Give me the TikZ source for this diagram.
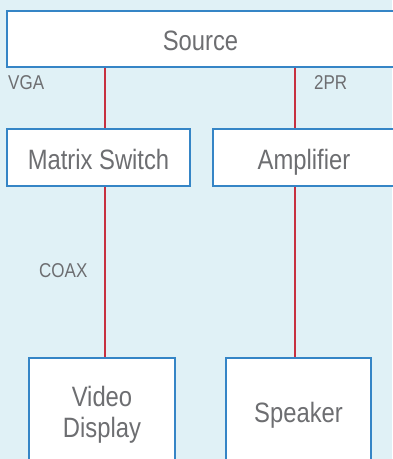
\documentclass[tikz,border=0pt]{standalone}
\usepackage{fontspec}
\setmainfont{Liberation Sans}[FakeStretch=0.85]
\usepackage{tikz}
\usetikzlibrary{positioning,calc}
\definecolor{avsky}{HTML}{E0F1F6}
\definecolor{avblue}{HTML}{3585C6}
\definecolor{avred}{HTML}{C7303F}
\definecolor{avgray}{HTML}{6D6E71}
\tikzset{
  unit/.style={draw=avblue, line width=1.6pt, fill=white, text=avgray, align=center, inner sep=0pt, font=\fontsize{28}{31}\selectfont},
  row/.style={unit, text height=26pt, text depth=3pt},
  wire/.style={avred, line width=1.3pt},
  lbl/.style={text=avgray, inner sep=0pt, anchor=west, font=\fontsize{20}{22}\selectfont},
}

\begin{document}
\begin{tikzpicture}[x=1pt, y=-1pt]
      \fill[avsky] (0,0) rectangle (392,459);
      \useasboundingbox (0,0) rectangle (392,459);
      \coordinate (vga) at (105,0);
      \coordinate (tpr) at (295,0);
      \node[row, minimum width=387pt, minimum height=56pt] (src) at (200.5,39) {Source};
      \node[row, minimum width=183pt, minimum height=57pt] (mx) at (98.5,157.5) {Matrix Switch};
      \node[row, minimum width=182pt, minimum height=57pt] (amp) at (304,157.5) {Amplifier};
      \node[unit, minimum width=146pt, minimum height=114pt] (vd) at (102,415) {Video\\Display};
      \node[unit, minimum width=145pt, minimum height=114pt] (spk) at (298.5,415) {Speaker};
      \draw[wire] (src.south -| vga) -- (mx.north -| vga);
      \draw[wire] (mx.south -| vga) -- (vd.north -| vga);
      \draw[wire] (src.south -| tpr) -- (amp.north -| tpr);
      \draw[wire] (amp.south -| tpr) -- (spk.north -| tpr);
      \node[lbl] (lvga) at (8,83) {VGA};
      \node[lbl] (ltpr) at (314,83) {2PR};
      \node[lbl] (lcoax) at (39,271) {COAX};
\end{tikzpicture}
\end{document}
